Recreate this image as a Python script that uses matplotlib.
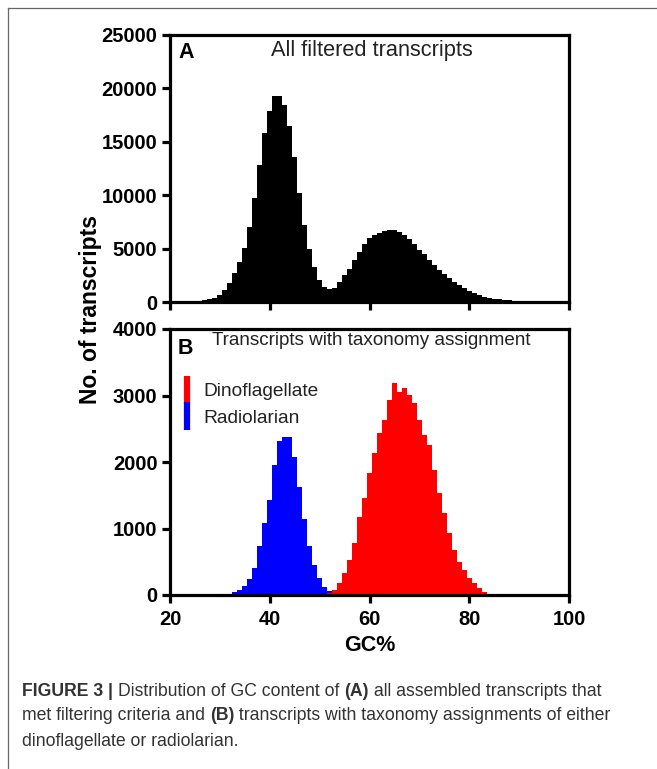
import numpy as np
import matplotlib
matplotlib.use("Agg")
import matplotlib.pyplot as plt
from matplotlib.lines import Line2D

plt.rcParams["font.family"] = ["Liberation Sans", "DejaVu Sans"]

# ---- data (bin centre = GC %, bin width 1) ----
gc_all = np.arange(21, 98)
count_all = [
    10, 20, 30, 50, 80, 120, 180, 260, 380, 650,
    1080, 1780, 2750, 3700, 5080, 6980, 9720, 12810, 15800, 17900,
    19250, 19300, 18400, 16500, 13600, 10200, 7200, 5000, 3250, 2100,
    1400, 1200, 1350, 1900, 2550, 3100, 3950, 4700, 5450, 5950,
    6250, 6480, 6620, 6700, 6720, 6600, 6300, 5900, 5400, 4900,
    4450, 3950, 3450, 3000, 2600, 2250, 1900, 1600, 1300, 1050,
    820, 640, 500, 400, 310, 240, 190, 150, 120, 100,
    80, 60, 45, 35, 25, 15, 10,
]

gc_radio = np.arange(32, 54)
count_radio = [
    15, 40, 80, 130, 240, 400, 740, 1080, 1430, 1950,
    2310, 2380, 2380, 2080, 1630, 1150, 730, 450, 250, 125,
    60, 25,
]

gc_dino = np.arange(52, 85)
count_dino = [
    30, 75, 175, 325, 526, 777, 1178, 1454, 1830, 2130,
    2430, 2630, 2930, 3185, 3060, 3110, 3010, 2880, 2630, 2400,
    2256, 1880, 1530, 1230, 928, 677, 500, 376, 250, 175,
    100, 50, 20,
]

yticks_a = [0, 5000, 10000, 15000, 20000, 25000]
yticks_b = [0, 1000, 2000, 3000, 4000]
xticks = [20, 40, 60, 80, 100]


def edges(centres):
    return np.append(centres - 0.5, centres[-1] + 0.5)


def style_axes(ax):
    for s in ax.spines.values():
        s.set_linewidth(2.3)
    ax.tick_params(width=2.3, length=6, direction="out", labelsize=14.5, pad=3)
    ax.tick_params(axis="x", pad=5)
    for lab in ax.get_xticklabels() + ax.get_yticklabels():
        lab.set_fontweight("bold")


fig = plt.figure(figsize=(6.57, 7.69), dpi=100)

# outer frame (left and top edge)
fig.add_artist(Line2D([7.5 / 657, 7.5 / 657], [0, 1 - 8 / 769], color="#666666", lw=0.9))
fig.add_artist(Line2D([7.5 / 657, 1], [1 - 8 / 769, 1 - 8 / 769], color="#666666", lw=0.9))

ax_a = fig.add_axes([170 / 657, 1 - 302 / 769, 399 / 657, 267 / 769])
ax_b = fig.add_axes([170 / 657, 1 - 595 / 769, 399 / 657, 266 / 769])

# panel A
ax_a.stairs(count_all, edges(gc_all), fill=True, color="black", lw=0)
ax_a.set_xlim(20, 100)
ax_a.set_ylim(0, 25000)
ax_a.set_xticks(xticks)
ax_a.set_xticklabels([])
ax_a.set_yticks(yticks_a)
style_axes(ax_a)
ax_a.text(0.02, 0.975, "A", transform=ax_a.transAxes, fontsize=15.5,
          fontweight="bold", ha="left", va="top")
ax_a.text(0.505, 0.98, "All filtered transcripts", transform=ax_a.transAxes,
          fontsize=15.7, color="#222222", ha="center", va="top")

# panel B
ax_b.stairs(count_radio, edges(gc_radio), fill=True, color="#0000ff", lw=0)
ax_b.stairs(count_dino, edges(gc_dino), fill=True, color="#ff0000", lw=0)
ax_b.set_xlim(20, 100)
ax_b.set_ylim(0, 4000)
ax_b.set_xticks(xticks)
ax_b.set_yticks(yticks_b)
style_axes(ax_b)
ax_b.text(0.02, 0.965, "B", transform=ax_b.transAxes, fontsize=15.5,
          fontweight="bold", ha="left", va="top")
ax_b.text(0.505, 0.99, "Transcripts with taxonomy assignment", transform=ax_b.transAxes,
          fontsize=13.6, color="#222222", ha="center", va="top")

handles = [
    Line2D([], [], color="#ff0000", marker="|", linestyle="None",
           markersize=20, markeredgewidth=4.5, label="Dinoflagellate"),
    Line2D([], [], color="#0000ff", marker="|", linestyle="None",
           markersize=20, markeredgewidth=4.5, label="Radiolarian"),
]
leg = ax_b.legend(handles=handles, loc="upper left", bbox_to_anchor=(0.0, 0.84),
                  frameon=False, fontsize=13.8, handlelength=0.6, handletextpad=0.55,
                  labelspacing=0.45, borderaxespad=0.2)
for t in leg.get_texts():
    t.set_color("#222222")

ax_b.set_xlabel("GC%", fontsize=15.5, fontweight="bold", labelpad=4)
fig.text(91 / 657, 1 - 310 / 769, "No. of transcripts", rotation=90, fontsize=16.5,
         fontweight="bold", ha="center", va="center")

# caption with mixed bold / regular runs
caption = [
    [("FIGURE 3 | ", True), ("Distribution of GC content of ", False), ("(A)", True),
     (" all assembled transcripts that", False)],
    [("met filtering criteria and ", False), ("(B)", True),
     (" transcripts with taxonomy assignments of either", False)],
    [("dinoflagellate or radiolarian.", False)],
]
renderer = fig.canvas.get_renderer()
for i, line in enumerate(caption):
    x = 22 / 657
    y = 1 - (691 + 25 * i) / 769
    for txt, bold in line:
        t = fig.text(x, y, txt, fontsize=12.7, color="#333333",
                     fontweight="bold" if bold else "normal", ha="left", va="center")
        x += t.get_window_extent(renderer).width / fig.bbox.width

fig.savefig("out.png", dpi=100)
